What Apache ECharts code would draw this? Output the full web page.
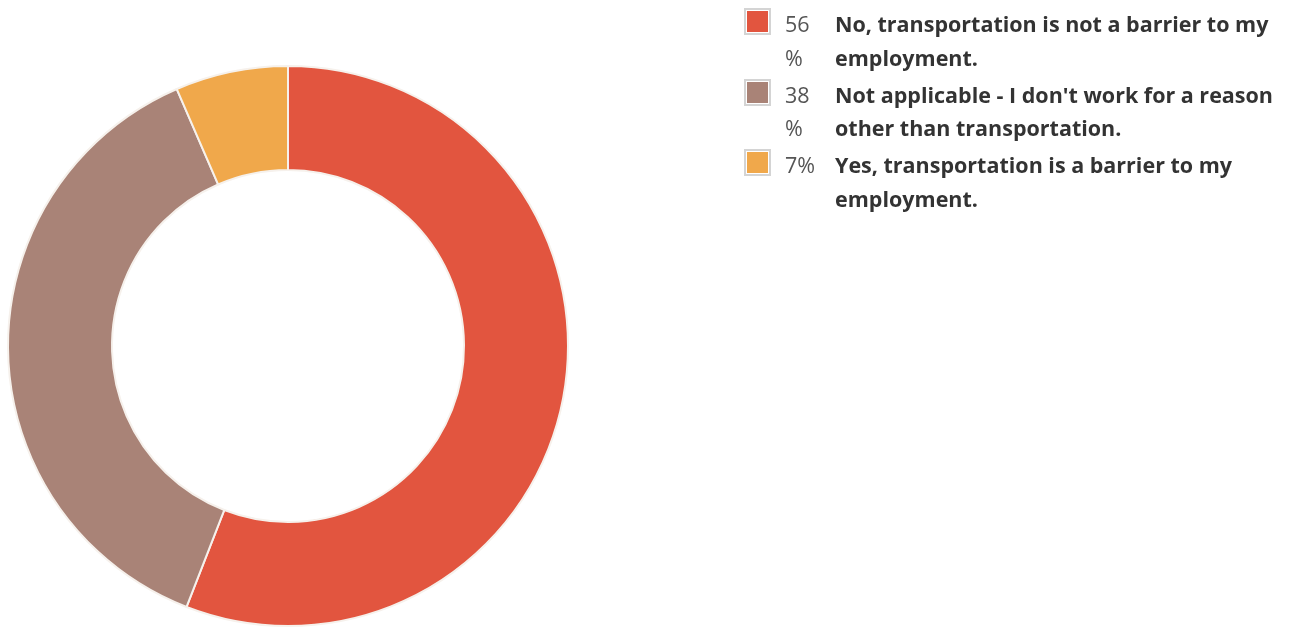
<!DOCTYPE html>
<html>
<head>
<meta charset="utf-8">
<script src="https://cdn.jsdelivr.net/npm/echarts@6/dist/echarts.min.js"></script>
<style>
  html, body { margin: 0; padding: 0; background: #fff; }
  #chart { position: absolute; left: 0; top: 0; width: 1292px; height: 627px; }
  #legend { position: absolute; left: 744px; top: 7px; width: 545px; font-family: "Open Sans", sans-serif; font-size: 21.5px; line-height: 33.5px; }
  .row { display: flex; align-items: flex-start; margin-bottom: 3.5px; }
  .icon { width: 23px; height: 23px; border: 2px solid #d4d4d4; margin-top: 1px; flex: none; box-sizing: content-box; }
  .icon span { display: block; width: 21px; height: 21px; margin: 1px; }
  .pct { width: 34px; margin-left: 14px; color: #555; flex: none; }
  .lab { width: 450px; margin-left: 16px; color: #333; font-weight: bold; }
</style>
</head>
<body>
<div id="chart"></div>
<div id="legend"></div>
<script>
const categories = [
  "No, transportation is not a barrier to my employment.",
  "Not applicable - I don't work for a reason other than transportation.",
  "Yes, transportation is a barrier to my employment."
];
const values = [55.9, 37.6, 6.5];
const percentLabels = ["56%", "38%", "7%"];
const colors = ["#e2553f", "#a98377", "#f0a84b"];

const chart = echarts.init(document.getElementById('chart'));
chart.setOption({
  animation: false,
  series: [{
    type: 'pie',
    center: [288, 346],
    radius: [176, 280],
    startAngle: 90,
    clockwise: true,
    label: { show: false },
    labelLine: { show: false },
    itemStyle: { borderColor: '#f6f1ec', borderWidth: 2 },
    data: categories.map((c, i) => ({ name: c, value: values[i], itemStyle: { color: colors[i] } }))
  }]
});

const leg = document.getElementById('legend');
categories.forEach((c, i) => {
  const row = document.createElement('div');
  row.className = 'row';
  const pct = percentLabels[i].replace('%', '<wbr>%');
  row.innerHTML = '<div class="icon"><span style="background:' + colors[i] + '"></span></div>' +
    '<div class="pct">' + pct + '</div>' +
    '<div class="lab">' + c.replace(/'/g, "&#39;") + '</div>';
  leg.appendChild(row);
});
</script>
</body>
</html>
